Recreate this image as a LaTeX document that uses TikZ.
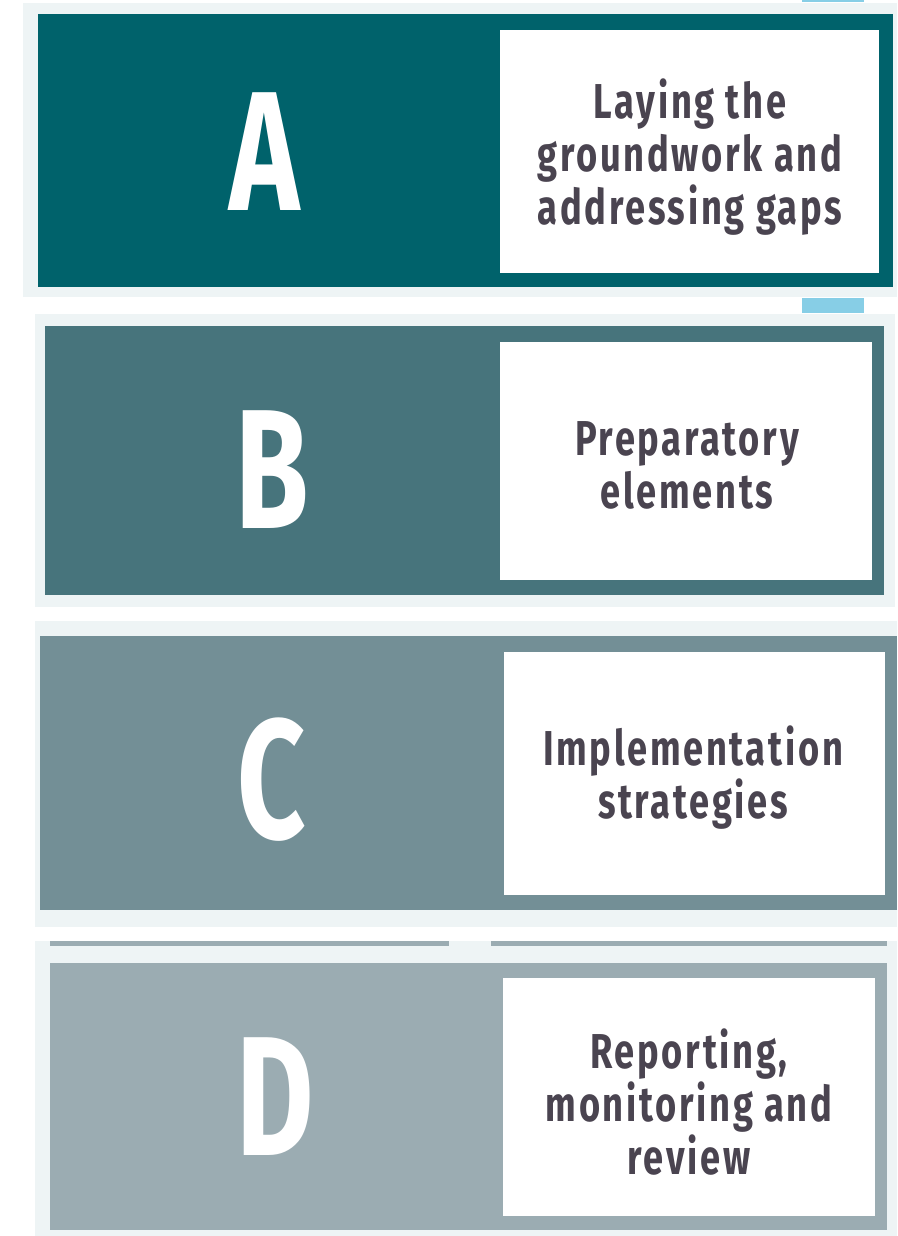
\documentclass[tikz,border=0pt]{standalone}
\usepackage{fontspec}
\newfontfamily\condf[FakeStretch=0.74,LetterSpace=5.5]{Fira Sans}
\newfontfamily\bigf[FakeStretch=0.70]{Fira Sans}
\definecolor{panelbg}{HTML}{EEF4F5}
\definecolor{colA}{HTML}{00626B}
\definecolor{colB}{HTML}{47747C}
\definecolor{colC}{HTML}{738F96}
\definecolor{colD}{HTML}{9BACB2}
\definecolor{accent}{HTML}{87CEE6}
\definecolor{txt}{HTML}{4A4450}
\tikzset{
  bigletter/.style={text=white,font=\bigf\bfseries\fontsize{170}{170}\selectfont,inner sep=0pt,anchor=center},
  label/.style={text=txt,font=\condf\bfseries\fontsize{49}{53}\selectfont,align=center,inner sep=0pt,anchor=center},
}
\begin{document}
\begin{tikzpicture}[x=1pt,y=-1pt]
\useasboundingbox (0,0) rectangle (897,1236);
\fill[white] (0,0) rectangle (897,1236);
% accent bars
\fill[accent] (802,0) rectangle (864,2);
\fill[accent] (802,298) rectangle (864,313);
% Panel A
\fill[panelbg] (23,3) rectangle (897,297);
\fill[colA] (38,14) rectangle (893,287);
\fill[white] (500,30) rectangle (879,273);
\node[bigletter] (la) at (265,152) {A};
\node[label] (ta) at (690,157) {Laying the\\groundwork and\\addressing gaps};
% Panel B
\fill[panelbg] (35,314) rectangle (895,607);
\fill[colB] (45,326) rectangle (884,595);
\fill[white] (500,342) rectangle (872,580);
\node[bigletter] (lb) at (272,470) {B};
\node[label] (tb) at (687,465) {Preparatory\\elements};
% Panel C
\fill[panelbg] (35,621) rectangle (897,927);
\fill[colC] (40,636) rectangle (897,910);
\fill[white] (504,652) rectangle (885,895);
\node[bigletter] (lc) at (272,780) {C};
\node[label] (tc) at (693,778) {Implementation\\strategies};
% Panel D
\fill[panelbg] (35,941) rectangle (897,1236);
\fill[colD] (50,941) rectangle (449,946);
\fill[colD] (491,941) rectangle (887,946);
\fill[colD] (50,963) rectangle (887,1230);
\fill[white] (503,978) rectangle (875,1216);
\node[bigletter] (ld) at (275,1097) {D};
\node[label] (td) at (689,1102) {Reporting,\\monitoring and\\review};
\end{tikzpicture}
\end{document}
